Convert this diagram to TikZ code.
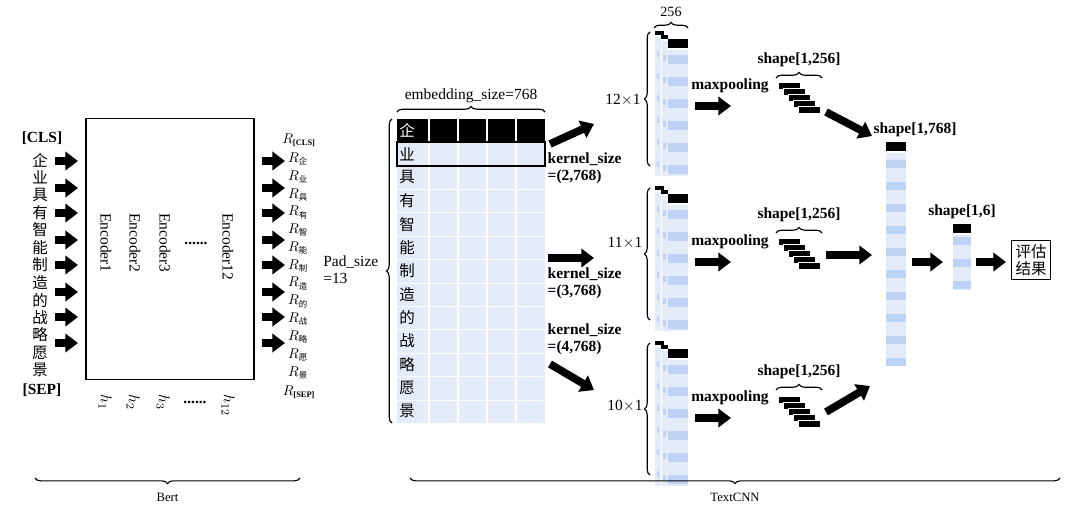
\documentclass[tikz,border=0pt]{standalone}
\usepackage{fontspec}
\setmainfont{Liberation Serif}
\newfontfamily\cjk{Noto Sans CJK SC}
\usetikzlibrary{arrows.meta,decorations.pathreplacing}
\definecolor{paleblue}{RGB}{228,236,250}
\definecolor{midblue}{RGB}{190,210,245}

\tikzset{
  fat/.style={line width=5.5pt,-{Triangle[length=9pt,width=13pt]}},
  brc/.style={decorate,decoration={brace,amplitude=4pt},thick},
  txt/.style={font=\fontsize{11}{12}\selectfont\bfseries,inner sep=1pt},
  zh/.style={font=\fontsize{11}{12}\selectfont\cjk,inner sep=0pt},
  enc/.style={font=\fontsize{11}{12}\selectfont,rotate=-90,anchor=west,inner sep=0pt},
  strip/.style={fill=paleblue,draw=none},
  seg/.style={fill=midblue,draw=none}
}

% block arrow between two named coordinates
\newcommand{\fatarrow}[3]{\coordinate (#1-s) at (#2); \coordinate (#1-e) at (#3); \draw[fat] (#1-s) -- (#1-e);}

% one stack of feature maps, top at #1
\newcommand{\convgroup}[1]{
  \fill[strip] (655,#1+6) rectangle (661,#1+145);
  \fill[strip] (662,#1+10) rectangle (668,#1+145);
  \fill[black] (655,#1) rectangle (661,#1+4);
  \fill[black] (661,#1) rectangle (664,#1+8);
  \fill[black] (662,#1+4) rectangle (668,#1+8);
  \fill[black] (668,#1+8) rectangle (688,#1+17);
  \fill[strip] (668,#1+19) rectangle (688,#1+145);
  \foreach \k in {0,...,5} {\fill[seg] (668,#1+24+22*\k) rectangle (688,#1+33+22*\k);
    \fill[seg] (663,#1+24+22*\k) rectangle (666,#1+30+22*\k);
    \fill[seg] (657,#1+20+22*\k) rectangle (659,#1+26+22*\k);}
}

% pooled feature bars, top left at (#1,#2)
\newcommand{\poolbars}[2]{
  \foreach \k in {0,...,4} {\fill[black,draw=white,line width=0.6pt] (#1+5*\k,#2+6*\k) rectangle (#1+5*\k+22,#2+6*\k+7);}
}
\newcommand{\sub}[1]{\mbox{\fontsize{6}{6}\selectfont #1}}

\begin{document}
\begin{tikzpicture}[x=0.025cm,y=-0.025cm]
\useasboundingbox (0,0) rectangle (1080,529);

%% Bert
\node[draw,thick,minimum width=168*0.025cm,minimum height=261*0.025cm,inner sep=0pt] (bert) at (170,249) {};
\node[txt] (cls) at (42,138) {[CLS]};
\node[txt] (sep) at (42,390) {[SEP]};
\foreach \c [count=\i from 0] in {企,业,具,有,智,能,制,造,的,战,略,愿,景}
  \node[zh] (in\i) at (40,160+17.5*\i) {\c};
\foreach \y [count=\i] in {161,188,213,240,265,292,317,343} {
  \fatarrow{ia\i}{55,\y}{78,\y}
  \fatarrow{oa\i}{262,\y}{285,\y}
}
\node[enc] (e1) at (106,213) {Encoder1};
\node[enc] (e2) at (135,213) {Encoder2};
\node[enc] (e3) at (165,213) {Encoder3};
\node[font=\fontsize{11}{12}\selectfont\bfseries] (edots) at (196,243) {......};
\node[enc] (e12) at (228,213) {Encoder12};
\node[enc] (h1) at (105,394) {$h_1$};
\node[enc] (h2) at (133,394) {$h_2$};
\node[enc] (h3) at (163,394) {$h_3$};
\node[font=\fontsize{11}{12}\selectfont\bfseries] (hdots) at (195,402) {......};
\node[enc] (h12) at (228,394) {$h_{12}$};
\node[inner sep=0pt] (rcls) at (299,140) {$R_{\sub{\bfseries[CLS]}}$};
\foreach \c [count=\i from 0] in {企,业,具,有,智,能,制,造,的,战,略,愿,景}
  \node[inner sep=0pt] (r\i) at (298,159+17.8*\i) {$R_{\sub{\cjk \c}}$};
\node[inner sep=0pt] (rsep) at (299,392) {$R_{\sub{\bfseries[SEP]}}$};
\coordinate (bl) at (35,478); \coordinate (br) at (300,478);
\draw[brc] (br) -- (bl) node[midway,below=7pt,font=\fontsize{9}{10}\selectfont] (bertlbl) {Bert};

%% embedding table
\node[font=\fontsize{11}{12}\selectfont,inner sep=0pt,anchor=west,align=left] (pad) at (323,270) {Pad\_size\\=13};
\fill[paleblue] (397,119) rectangle (545,423);
\foreach \x in {429,458,487,516} \draw[white,thick] (\x,142) -- (\x,423);
\foreach \i in {2,...,12} \draw[white] (397,119+23.4*\i) -- (545,119+23.4*\i);
\fill[black] (397,119) rectangle (545,142);
\foreach \x in {429,458,487,516} \draw[white,thick] (\x,119) -- (\x,142);
\draw[thick] (397,142) rectangle (545,166);
\foreach \c [count=\i from 0] in {企,业,具,有,智,能,制,造,的,战,略,愿,景}
  \node[zh] (t\i) at (407,130.5+23.4*\i) {\c};
\node[zh,white] at (t0) {企};
\coordinate (pt) at (392,119); \coordinate (pb) at (392,423);
\draw[brc] (pb) -- (pt);
\coordinate (et) at (397,112); \coordinate (ee) at (545,112);
\draw[brc] (et) -- (ee) node[midway,above=5pt,txt,font=\fontsize{11}{12}\selectfont] (emb) {embedding\_size=768};

%% kernels
\fatarrow{k1}{550,144}{594,124}
\fatarrow{k2}{548,258}{594,258}
\fatarrow{k3}{550,364}{594,390}
\node[txt,align=left,anchor=north west] (ks1) at (546,151) {kernel\_size\\=(2,768)};
\node[txt,align=left,anchor=north west] (ks2) at (546,266) {kernel\_size\\=(3,768)};
\node[txt,align=left,anchor=north west] (ks3) at (546,322) {kernel\_size\\=(4,768)};

%% conv outputs
\convgroup{31}
\convgroup{186}
\convgroup{341}
\draw[brc] (650,166) -- (650,32);
\draw[brc] (650,320) -- (650,188);
\draw[brc] (650,475) -- (650,343);
\node[font=\fontsize{11}{12}\selectfont] (c1) at (623,100) {12$\times$1};
\node[font=\fontsize{11}{12}\selectfont] (c2) at (625,243) {11$\times$1};
\node[font=\fontsize{11}{12}\selectfont] (c3) at (625,406) {10$\times$1};
\draw[brc] (654,28) -- (688,28) node[midway,above=4pt,font=\fontsize{10}{11}\selectfont] (n256) {256};

%% max pooling
\foreach \y/\n in {86/1,242/2,398/3} \node[txt] (mp\n) at (730,\y) {maxpooling};
\fatarrow{m1}{695,106}{731,106}
\fatarrow{m2}{695,262}{731,262}
\fatarrow{m3}{695,418}{731,418}
\poolbars{778}{82}
\poolbars{778}{238}
\poolbars{778}{396}
\foreach \y/\n in {78/1,233/2,390/3} {
  \draw[brc] (776,\y) -- (822,\y);
  \node[txt] (sh\n) at (799,\y-18) {shape[1,256]};
}

%% concat
\fatarrow{p1}{826,112}{872,136}
\fatarrow{p2}{826,255}{872,255}
\fatarrow{p3}{826,412}{870,386}
\fill[black] (886,142) rectangle (906,151);
\fill[strip] (886,153) rectangle (906,366);
\foreach \k in {0,...,9} \fill[seg] (886,160+22*\k) rectangle (906,168+22*\k);
\node[txt] (sh768) at (915,130) {shape[1,768]};
\fatarrow{f1}{912,262}{943,262}

%% output
\fill[black] (953,224) rectangle (971,233);
\fill[strip] (953,235) rectangle (971,290);
\foreach \k in {0,1,2} \fill[seg] (953,237+22*\k) rectangle (971,245+22*\k);
\node[txt] (sh6) at (962,212) {shape[1,6]};
\fatarrow{f2}{976,262}{1006,262}
\node[draw,thick,zh,inner sep=3pt,align=center] (res) at (1031,260) {评估\\结果};

\draw[brc] (1060,478) -- (410,478) node[midway,below=7pt,font=\fontsize{9}{10}\selectfont] (cnnlbl) {TextCNN};
\end{tikzpicture}
\end{document}
